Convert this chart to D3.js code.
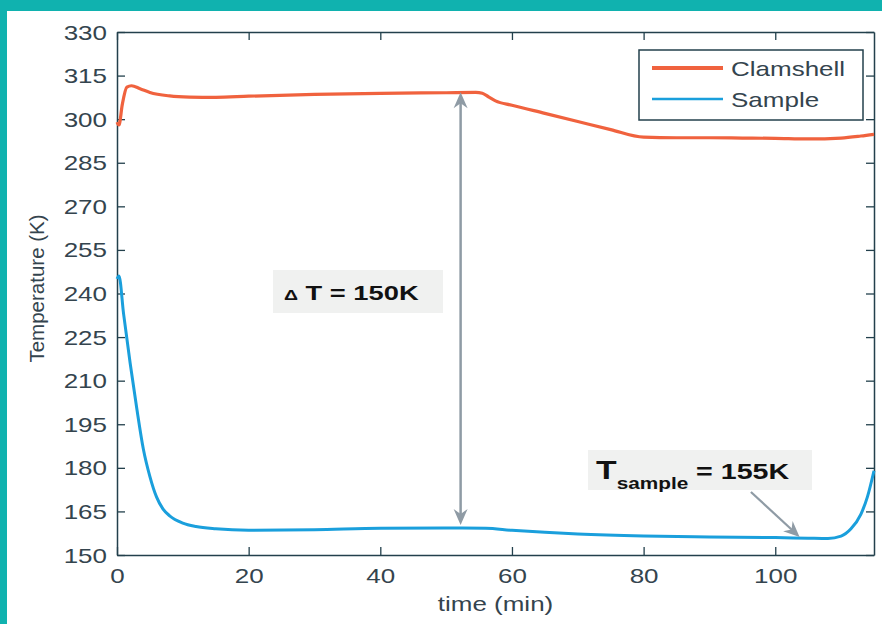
<!DOCTYPE html>
<html><head><meta charset="utf-8">
<script src="https://cdn.jsdelivr.net/npm/d3@7"></script>
<style>body{margin:0;background:#fff}svg{display:block}text{font-family:"Liberation Sans",Arial,sans-serif}</style>
</head><body>
<script>
// ---- data ----
const clamTime = [0, 0.3, 0.8, 1.5, 2.2, 3.5, 5, 8, 11, 15, 20, 30, 40, 50, 54.5, 55.5, 56.5, 57.5, 60, 65, 70, 75, 80, 85, 90, 95, 100, 105, 110, 113, 115];
const clamTemp = [299, 298, 305, 311, 311.5, 310.5, 309.2, 308, 307.6, 307.5, 307.9, 308.5, 308.9, 309.1, 309.2, 308.9, 307.6, 306.3, 304.8, 302, 299.2, 296.4, 293.8, 293.6, 293.6, 293.5, 293.4, 293.2, 293.5, 294.2, 294.8];
const sampTime = [0, 0.3, 1, 2, 3, 4, 5, 6, 7, 8, 10, 12, 15, 20, 30, 40, 50, 56, 60, 65, 70, 80, 90, 100, 105, 108, 110, 111.5, 113, 114, 115];
const sampTemp = [245, 246, 233, 216, 200.5, 186.5, 177, 170, 165.8, 163.5, 161, 159.8, 159, 158.5, 158.7, 159.2, 159.3, 159.2, 158.5, 157.8, 157.2, 156.5, 156.2, 156, 155.8, 155.7, 156.5, 159, 164, 170, 179];
const xTicks = [0, 20, 40, 60, 80, 100];
const yTicks = [150, 165, 180, 195, 210, 225, 240, 255, 270, 285, 300, 315, 330];
const seriesNames = ["Clamshell", "Sample"];
const deltaArrow = {t: 52.2, from: 309.3, to: 160.3};
const callArrow = {t0: 96.3, T0: 171.7, t1: 103.7, T1: 156.2};

// ---- layout ----
const W = 882, H = 624;
const L = 117, R = 874, T = 32, B = 555;
const SX = 1.3; // horizontal text stretch
const axisCol = "#23404c", textCol = "#34444e";
const red = "#f0623e", blue = "#1a9fdc", grey = "#8f9ba5";

const svg = d3.select("body").append("svg").attr("width", W).attr("height", H);
svg.append("rect").attr("width", W).attr("height", H).attr("fill", "#10b2af");
svg.append("rect").attr("x", 7).attr("y", 11).attr("width", W - 7).attr("height", H - 11).attr("fill", "#fff");

const x = d3.scaleLinear().domain([0, 115]).range([L, R]);
const y = d3.scaleLinear().domain([150, 330]).range([B, T]);

function stretch(sel) {
  sel.each(function () {
    const t = d3.select(this);
    const xx = +t.attr("x") || 0, yy = +t.attr("y") || 0;
    t.attr("transform", `translate(${xx},${yy}) scale(${SX},1)`).attr("x", 0).attr("y", 0);
  });
}

// axes with inward ticks (box)
const gx = svg.append("g").attr("transform", `translate(0,${B})`)
  .call(d3.axisBottom(x).tickValues(xTicks).tickSizeInner(-8).tickSizeOuter(0).tickPadding(10));
const gxt = svg.append("g").attr("transform", `translate(0,${T})`)
  .call(d3.axisTop(x).tickValues(xTicks).tickSizeInner(-8).tickSizeOuter(0).tickFormat(""));
const gy = svg.append("g").attr("transform", `translate(${L},0)`)
  .call(d3.axisLeft(y).tickValues(yTicks).tickSizeInner(-8).tickSizeOuter(0).tickPadding(10));
const gyr = svg.append("g").attr("transform", `translate(${R},0)`)
  .call(d3.axisRight(y).tickValues(yTicks).tickSizeInner(-8).tickSizeOuter(0).tickFormat(""));
[gx, gxt, gy, gyr].forEach(g => {
  g.select(".domain").attr("stroke", axisCol).attr("stroke-width", 1.5);
  g.selectAll(".tick line").attr("stroke", axisCol).attr("stroke-width", 1.3);
  g.selectAll("text").attr("fill", textCol).style("font-size", "20px").attr("font-family", null);
});
gx.selectAll(".tick text").attr("dy", "0.9em").call(stretch);
gy.selectAll(".tick text").attr("dy", "0.35em").call(stretch);

// lines
const line = d3.line().x(d => x(d[0])).y(d => y(d[1])).curve(d3.curveMonotoneX);
const clam = clamTime.map((t, i) => [t, clamTemp[i]]);
const samp = sampTime.map((t, i) => [t, sampTemp[i]]);
svg.append("path").datum(clam).attr("d", line).attr("fill", "none").attr("stroke", red).attr("stroke-width", 3.2);
svg.append("path").datum(samp).attr("d", line).attr("fill", "none").attr("stroke", blue).attr("stroke-width", 3);

// axis titles
svg.append("text").attr("x", (L + R) / 2).attr("y", 611).attr("text-anchor", "middle")
  .attr("fill", textCol).style("font-size", "20px").text("time (min)").call(stretch);
svg.append("text").attr("transform", `translate(44,${(T + B) / 2 - 5}) rotate(-90)`).attr("text-anchor", "middle")
  .attr("fill", textCol).style("font-size", "20.5px").text("Temperature (K)");

// legend
const lg = svg.append("g");
lg.append("rect").attr("x", 639).attr("y", 50).attr("width", 224).attr("height", 70)
  .attr("fill", "#fff").attr("stroke", axisCol).attr("stroke-width", 1.5);
[[red, 68, 4], [blue, 99, 2.5]].forEach((c, i) => {
  lg.append("line").attr("x1", 652).attr("x2", 723).attr("y1", c[1]).attr("y2", c[1])
    .attr("stroke", c[0]).attr("stroke-width", c[2]);
  lg.append("text").attr("x", 731).attr("y", c[1] + 7.5).attr("fill", textCol)
    .style("font-size", "20px").text(seriesNames[i]).call(stretch);
});

// arrowhead helper
function head(px, py, ang, col) {
  const g = svg.append("g").attr("transform", `translate(${px},${py}) rotate(${ang})`);
  g.append("path").attr("d", "M0,0 L-16,-7 L-11,0 L-16,7 Z").attr("fill", col);
}
// double arrow ΔT
const ax = x(deltaArrow.t), ay0 = y(deltaArrow.from), ay1 = y(deltaArrow.to);
svg.append("line").attr("x1", ax).attr("x2", ax).attr("y1", ay0 + 8).attr("y2", ay1 - 8)
  .attr("stroke", grey).attr("stroke-width", 2.5);
head(ax, ay0, -90, grey);
head(ax, ay1, 90, grey);

// callout arrow
const cx0 = x(callArrow.t0), cy0 = y(callArrow.T0), cx1 = x(callArrow.t1), cy1 = y(callArrow.T1);
const ang = Math.atan2(cy1 - cy0, cx1 - cx0) * 180 / Math.PI;
svg.append("line").attr("x1", cx0).attr("y1", cy0).attr("x2", cx1 - 8 * Math.cos(ang * Math.PI / 180))
  .attr("y2", cy1 - 8 * Math.sin(ang * Math.PI / 180)).attr("stroke", grey).attr("stroke-width", 2.2);
head(cx1, cy1, ang, grey);

// annotation boxes
svg.append("rect").attr("x", 273).attr("y", 270).attr("width", 170).attr("height", 43).attr("fill", "#f0f1f0");
const dt = svg.append("text").attr("transform", `translate(284,300) scale(${SX},1)`)
  .attr("fill", "#111").style("font-weight", "bold");
dt.append("tspan").style("font-size", "15px").text("\u0394");
dt.append("tspan").style("font-size", "21px").text(" T = 150K");

svg.append("rect").attr("x", 588).attr("y", 450).attr("width", 224).attr("height", 40).attr("fill", "#f0f1f0");
const ts = svg.append("text").attr("transform", `translate(596,479) scale(${SX},1)`)
  .attr("fill", "#111").style("font-weight", "bold");
ts.append("tspan").style("font-size", "26px").text("T");
ts.append("tspan").style("font-size", "16px").attr("dy", 10).text("sample");
ts.append("tspan").style("font-size", "22px").attr("dy", -10).attr("dx", 6).text("= 155K");
</script>
</body></html>
